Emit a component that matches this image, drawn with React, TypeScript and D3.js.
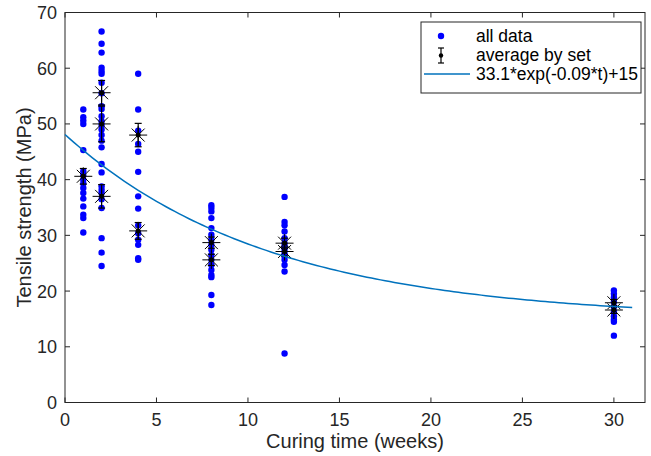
import React from "react";
import * as d3 from "d3";

const curingWeeks = [1, 2, 4, 8, 12, 30];
const week1 = [52.6, 51.2, 50.6, 50.0, 45.3, 41.5, 40.8, 40.0, 39.3, 38.5, 37.6, 36.6, 35.2, 33.7, 33.1, 30.5];
const week2 = [66.6, 64.4, 62.8, 60.1, 59.5, 59.0, 57.4, 55.5, 53.2, 52.7, 51.4, 50.5, 49.8, 49.0, 48.0, 47.0, 45.8, 42.8, 41.3, 38.8, 38.2, 37.6, 36.5, 34.9, 29.5, 26.9, 24.5];
const week4 = [59.0, 52.6, 48.8, 46.4, 45.0, 41.4, 37.0, 34.8, 31.8, 30.4, 29.2, 28.3, 25.9, 25.6];
const week8 = [35.4, 34.9, 34.3, 33.1, 31.3, 30.1, 29.2, 28.3, 27.4, 26.5, 25.6, 24.7, 23.8, 22.9, 22.5, 19.3, 17.5];
const week12 = [36.9, 32.4, 31.8, 30.7, 29.5, 28.6, 28.0, 27.4, 26.8, 26.2, 25.6, 24.7, 23.5, 8.8];
const week30 = [20.1, 19.5, 18.9, 18.1, 17.2, 16.3, 15.5, 14.9, 14.5, 12.0];
const weekData = [week1, week2, week4, week8, week12, week30];

const avgWeeks = [1, 2, 2, 2, 4, 4, 8, 8, 12, 12, 30, 30];
const avgValues = [40.6, 55.6, 50.0, 37.0, 48.0, 30.8, 28.7, 25.6, 28.6, 27.1, 17.9, 16.6];
const avgErrors = [1.4, 2.2, 3.2, 2.1, 2.1, 1.5, 1.0, 1.0, 0.9, 0.8, 0.6, 0.6];

const fitA = 33.1;
const fitK = 0.09;
const fitC = 15;
const fitTMax = 31;

const xTicks = [0, 5, 10, 15, 20, 25, 30];
const yTicks = [0, 10, 20, 30, 40, 50, 60, 70];

const legendLabels = ["all data", "average by set", "33.1*exp(-0.09*t)+15"];

export default function App() {
  const W = 651, H = 456;
  const left = 65, right = 645, top = 12.5, bottom = 402.5;
  const x = d3.scaleLinear().domain([0, 31.7]).range([left, right]);
  const y = d3.scaleLinear().domain([0, 70]).range([bottom, top]);
  const axisColor = "#262626";
  const font = "'Liberation Sans', Arial, Helvetica, sans-serif";
  const tickLen = 5;

  const fitPts = d3.range(0, fitTMax + 0.001, 0.25).map((t) => [t, fitA * Math.exp(-fitK * t) + fitC] as [number, number]);
  const line = d3.line<[number, number]>().x((d) => x(d[0])).y((d) => y(d[1]));

  const points: { w: number; v: number }[] = [];
  weekData.forEach((arr, i) => arr.forEach((v) => points.push({ w: curingWeeks[i], v })));

  const star = (cx: number, cy: number, r: number, key: string) => {
    const dr = r * 0.72;
    return (
      <g key={key} stroke="#000" strokeWidth={1}>
        <line x1={cx - r} y1={cy} x2={cx + r} y2={cy} />
        <line x1={cx} y1={cy - r} x2={cx} y2={cy + r} />
        <line x1={cx - dr} y1={cy - dr} x2={cx + dr} y2={cy + dr} />
        <line x1={cx - dr} y1={cy + dr} x2={cx + dr} y2={cy - dr} />
      </g>
    );
  };

  const capW = 3.5;
  const lgX = 421, lgY = 22, lgW = 220, lgH = 71;
  const iconX = 441;

  return (
    <svg width={W} height={H} style={{ position: "absolute", left: 0, top: 0, background: "#fff" }} fontFamily={font}>
      <rect x={0} y={0} width={W} height={H} fill="#fff" />
      {xTicks.map((t) => (
        <g key={"xt" + t} stroke={axisColor} strokeWidth={1}>
          <line x1={x(t)} y1={bottom} x2={x(t)} y2={bottom - tickLen} />
          <line x1={x(t)} y1={top} x2={x(t)} y2={top + tickLen} />
        </g>
      ))}
      {yTicks.map((t) => (
        <g key={"yt" + t} stroke={axisColor} strokeWidth={1}>
          <line x1={left} y1={y(t)} x2={left + tickLen} y2={y(t)} />
          <line x1={right} y1={y(t)} x2={right - tickLen} y2={y(t)} />
        </g>
      ))}
      <rect x={left} y={top} width={right - left} height={bottom - top} fill="none" stroke={axisColor} strokeWidth={1} />
      {xTicks.map((t) => (
        <text key={"xl" + t} x={x(t)} y={bottom + 23} textAnchor="middle" fontSize={18} fill={axisColor}>{t}</text>
      ))}
      {yTicks.map((t) => (
        <text key={"yl" + t} x={left - 8} y={y(t) + 6.5} textAnchor="end" fontSize={18} fill={axisColor}>{t}</text>
      ))}
      <text x={(left + right) / 2} y={448} textAnchor="middle" fontSize={20} fill={axisColor}>Curing time (weeks)</text>
      <text transform={`translate(31, ${(top + bottom) / 2}) rotate(-90)`} textAnchor="middle" fontSize={20} fill={axisColor}>Tensile strength (MPa)</text>

      {points.map((p, i) => (
        <circle key={"p" + i} cx={x(p.w)} cy={y(p.v)} r={3.2} fill="#0000ff" />
      ))}
      {avgWeeks.map((w, i) => {
        const cx = x(w);
        const y1 = y(avgValues[i] + avgErrors[i]);
        const y2 = y(avgValues[i] - avgErrors[i]);
        return (
          <g key={"eb" + i} stroke="#000" strokeWidth={1.2}>
            <line x1={cx} y1={y1} x2={cx} y2={y2} />
            <line x1={cx - capW} y1={y1} x2={cx + capW} y2={y1} />
            <line x1={cx - capW} y1={y2} x2={cx + capW} y2={y2} />
          </g>
        );
      })}
      {avgWeeks.map((w, i) => (
        <circle key={"ed" + i} cx={x(w)} cy={y(avgValues[i])} r={2.5} fill="#000" />
      ))}
      {avgWeeks.map((w, i) => star(x(w), y(avgValues[i]), 9, "s" + i))}
      <path d={line(fitPts) || ""} fill="none" stroke="#0072bd" strokeWidth={1.5} />

      <rect x={lgX} y={lgY} width={lgW} height={lgH} fill="#fff" stroke={axisColor} strokeWidth={1} />
      <circle cx={iconX} cy={36} r={3.2} fill="#0000ff" />
      <g stroke="#000" strokeWidth={1.2}>
        <line x1={iconX} y1={48} x2={iconX} y2={63} />
        <line x1={iconX - 3} y1={48} x2={iconX + 3} y2={48} />
        <line x1={iconX - 3} y1={63} x2={iconX + 3} y2={63} />
      </g>
      <circle cx={iconX} cy={55.5} r={2.2} fill="#000" />
      <line x1={424} y1={74} x2={470} y2={74} stroke="#0072bd" strokeWidth={1.5} />
      {legendLabels.map((l, i) => (
        <text key={"lg" + i} x={476} y={42 + i * 19} fontSize={17.5} fill="#000">{l}</text>
      ))}
    </svg>
  );
}
